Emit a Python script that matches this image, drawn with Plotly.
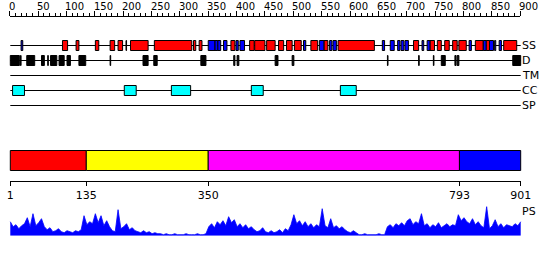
import plotly.graph_objects as go

# ---------------- data ----------------
seq_len = 901
ruler_ticks = [0, 50, 100, 150, 200, 250, 300, 350, 400, 450, 500, 550, 600, 650, 700, 750, 800, 850, 900]
ruler_labels = [str(v) for v in ruler_ticks]

ss_helix = [(93, 102), (117, 122), (151, 157), (177, 185), (191, 199), (205, 206), (213, 244),
            (255, 321), (324, 328), (334, 339), (390, 397), (423, 431), (432, 450), (453, 468),
            (474, 483), (488, 498), (502, 514), (531, 543), (554, 561), (579, 643), (712, 721),
            (741, 749), (754, 761), (767, 775), (781, 789), (792, 805), (821, 835), (840, 846),
            (871, 894)]
ss_strand = [(20, 23), (350, 362), (362, 367), (367, 372), (377, 383), (399, 403), (406, 414),
             (518, 522), (546, 554), (564, 568), (570, 576), (657, 661), (671, 678), (684, 688),
             (690, 695), (697, 703), (727, 730), (736, 741), (810, 814), (835, 840), (846, 853),
             (855, 857), (863, 867)]
disorder = [(1, 17), (19, 20), (30, 44), (56, 61), (67, 68), (72, 83), (87, 96), (101, 107),
            (122, 134), (177, 178), (235, 244), (254, 260), (337, 346), (395, 397), (401, 404),
            (468, 473), (498, 501), (666, 667), (721, 722), (747, 748), (761, 768), (785, 787),
            (789, 792), (887, 901)]
transmembrane = []
coiled_coil = [(5, 26), (202, 223), (285, 319), (426, 447), (583, 611)]
signal_peptide = []

track_names = ["SS", "D", "TM", "CC", "SP"]

domain_starts = [1, 135, 350, 793]
domain_ends = [135, 350, 793, 901]
domain_colors = ["#ff0000", "#ffff00", "#ff00ff", "#0000ff"]
domain_ticks = [1, 135, 350, 793, 901]
domain_tick_labels = ["1", "135", "350", "793", "901"]

ps_positions = list(range(1, 902, 5))
ps_values = [14, 9, 11, 7, 10, 12, 18, 9, 22,
             10, 13, 17, 9,
             6, 8, 4, 5, 7, 4, 3, 5, 4,
             3, 5, 4, 6,
             20, 11, 14, 12, 22, 13, 20,
             10, 15, 9,
             5, 4,
             26,
             7, 9, 12, 6, 8, 5,
             4, 3, 5, 3, 4, 2, 3, 2,
             2, 1, 2, 1, 1, 2, 1, 1, 1, 2, 1, 1, 1, 2, 1, 1, 2,
             9, 12, 8, 14, 11, 15, 10, 19, 13, 16, 9, 12, 8, 11, 7, 9, 6,
             4, 5, 8, 4, 3, 5, 3,
             4, 6, 3, 7, 5,
             11, 21, 12, 15, 10, 14, 9,
             12, 8, 11, 9, 27, 10, 8,
             17, 8, 10, 7, 9, 6,
             4, 3, 5, 3,
             1, 1, 2, 1, 1, 1, 1, 2, 1, 1,
             9, 11, 8, 12, 10,
             13, 10, 15, 17, 11, 14, 12,
             22,
             10, 12, 8, 11, 9, 13, 8, 10, 12, 9, 11, 10,
             21, 15, 18, 14,
             12, 17, 11, 14, 10, 8,
             29, 7,
             10, 16, 9, 12, 8, 11, 10, 9, 12, 10, 14]

# ---------------- layout geometry (pixels) ----------------
W, H = 550, 260
X_START_PX, X_END_PX = 10.3, 520.7          # residue 1 .. 901
k = (X_END_PX - X_START_PX) / (seq_len - 1)
x_min = 1 - X_START_PX / k
x_max = 1 + (W - X_START_PX) / k

track_y = {"SS": 45.5, "D": 60.5, "TM": 75.5, "CC": 90.5, "SP": 105.5}
half_box = 5
FONT = "DejaVu Sans"

shapes = []
annotations = []

# track lines
for name in track_names:
    y = track_y[name]
    shapes.append(dict(type="line", xref="x", yref="y", x0=1, x1=seq_len, y0=y, y1=y,
                       line=dict(color="black", width=1), layer="below"))
    annotations.append(dict(x=seq_len, y=y, xref="x", yref="y", text=name, showarrow=False,
                            xanchor="left", yanchor="middle", xshift=-1,
                            font=dict(family=FONT, size=11, color="black")))

def add_boxes(features, track, color):
    y = track_y[track]
    for s, e in features:
        shapes.append(dict(type="rect", xref="x", yref="y", x0=s, x1=e,
                           y0=y - half_box, y1=y + half_box, fillcolor=color,
                           line=dict(color="black", width=1)))

add_boxes(ss_helix, "SS", "#ff0000")
add_boxes(ss_strand, "SS", "#0000ff")
add_boxes(disorder, "D", "#000000")
add_boxes(transmembrane, "TM", "#808080")
add_boxes(coiled_coil, "CC", "#00ffff")
add_boxes(signal_peptide, "SP", "#00ff00")

# domain bar
for s, e, c in zip(domain_starts, domain_ends, domain_colors):
    shapes.append(dict(type="rect", xref="x", yref="y", x0=s, x1=e, y0=150.5, y1=170.5,
                       fillcolor=c, line=dict(color="black", width=1)))

# ruler labels (left aligned at tick)
for v, lab in zip(ruler_ticks, ruler_labels):
    annotations.append(dict(x=v, y=6.5, xref="x", yref="y", text=lab, showarrow=False,
                            xanchor="left", yanchor="middle", xshift=-2, borderpad=0,
                            font=dict(family=FONT, size=10, color="black")))

# PS label
annotations.append(dict(x=seq_len, y=211, xref="x", yref="y", text="PS", showarrow=False,
                        xanchor="left", yanchor="middle", xshift=-1,
                        font=dict(family=FONT, size=11, color="black")))

fig = go.Figure()

# profile
fig.add_trace(go.Scatter(x=ps_positions, y=ps_values, xaxis="x", yaxis="y2", mode="lines",
                         fill="tozeroy", fillcolor="#0000ff",
                         line=dict(color="#0000ff", width=0.8), hoverinfo="skip",
                         showlegend=False))
# invisible anchors for the ruler axis and domain axis
fig.add_trace(go.Scatter(x=[0, 900], y=[0, 0], xaxis="x2", yaxis="y", mode="markers",
                         marker=dict(opacity=0), hoverinfo="skip", showlegend=False))
fig.add_trace(go.Scatter(x=[1, 901], y=[0, 0], xaxis="x3", yaxis="y", mode="markers",
                         marker=dict(opacity=0), hoverinfo="skip", showlegend=False))

ps_base_px = 235.7
ps_range = 30

fig.update_layout(
    template="none",
    width=W, height=H, margin=dict(l=0, r=0, t=0, b=0, pad=0, autoexpand=False),
    paper_bgcolor="white", plot_bgcolor="rgba(0,0,0,0)",
    showlegend=False,
    xaxis=dict(domain=[0, 1], range=[x_min, x_max], visible=False, automargin=False),
    yaxis=dict(domain=[0, 1], range=[H, 0], visible=False, automargin=False),
    yaxis2=dict(domain=[(H - ps_base_px) / H, (H - ps_base_px + ps_range) / H],
                range=[0, ps_range], visible=False, anchor="x", automargin=False),
    xaxis2=dict(domain=[(X_START_PX - k) / W, (X_START_PX + 899 * k) / W],
                range=[0, 900], anchor="free", position=1 - 15.5 / H, side="top",
                automargin=False,
                showline=True, linecolor="black", linewidth=1, showgrid=False, zeroline=False,
                tickmode="linear", tick0=0, dtick=50, ticks="outside", ticklen=5,
                tickcolor="black", tickwidth=1, showticklabels=False,
                minor=dict(tick0=0, dtick=10, ticks="outside", ticklen=3,
                           tickcolor="black", tickwidth=1, showgrid=False)),
    xaxis3=dict(domain=[X_START_PX / W, X_END_PX / W], range=[1, 901], anchor="free",
                position=1 - 180.5 / H, side="bottom", showline=True, linecolor="black",
                automargin=False,
                linewidth=1, showgrid=False, zeroline=False, tickmode="array",
                tickvals=domain_ticks, ticktext=domain_tick_labels, ticks="outside",
                ticklen=4, tickcolor="black", tickwidth=1,
                tickfont=dict(family=FONT, size=11, color="black")),
    shapes=shapes, annotations=annotations,
)

fig.write_html("out.html")
